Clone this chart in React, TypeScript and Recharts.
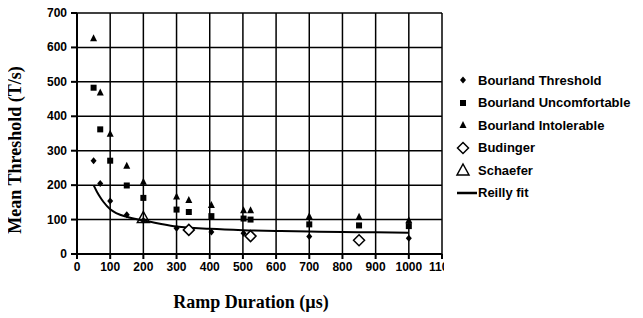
import React from 'react'
import { ComposedChart, Scatter, Line, XAxis, YAxis, CartesianGrid } from 'recharts'

type Pt = { x: number; y: number }

const xTicks = [0, 100, 200, 300, 400, 500, 600, 700, 800, 900, 1000, 1100]
const yTicks = [0, 100, 200, 300, 400, 500, 600, 700]

const bourlandThreshold: Pt[] = [
  { x: 50, y: 271 }, { x: 70, y: 205 }, { x: 100, y: 154 }, { x: 150, y: 114 },
  { x: 200, y: 97 }, { x: 300, y: 75 }, { x: 405, y: 64 }, { x: 502, y: 60 },
  { x: 700, y: 51 }, { x: 1000, y: 46 },
]
const bourlandUncomfortable: Pt[] = [
  { x: 50, y: 483 }, { x: 70, y: 362 }, { x: 100, y: 271 }, { x: 150, y: 199 },
  { x: 200, y: 163 }, { x: 300, y: 129 }, { x: 337, y: 122 }, { x: 405, y: 110 },
  { x: 502, y: 103 }, { x: 523, y: 100 }, { x: 700, y: 86 }, { x: 850, y: 83 },
  { x: 1000, y: 81 },
]
const bourlandIntolerable: Pt[] = [
  { x: 50, y: 627 }, { x: 70, y: 469 }, { x: 100, y: 349 }, { x: 150, y: 256 },
  { x: 200, y: 210 }, { x: 300, y: 167 }, { x: 337, y: 157 }, { x: 405, y: 142 },
  { x: 502, y: 127 }, { x: 523, y: 127 }, { x: 700, y: 110 }, { x: 850, y: 108 },
  { x: 1000, y: 98 },
]
const budinger: Pt[] = [
  { x: 337, y: 70 }, { x: 523, y: 52 }, { x: 850, y: 40 },
]
const schaefer: Pt[] = [
  { x: 200, y: 106 },
]
const reillyFit: Pt[] = [
  { x: 50, y: 200 }, { x: 60, y: 181 }, { x: 70, y: 165 }, { x: 80, y: 151 },
  { x: 100, y: 130 }, { x: 120, y: 118 }, { x: 150, y: 108 }, { x: 200, y: 97 },
  { x: 250, y: 88 }, { x: 300, y: 80 }, { x: 400, y: 73 }, { x: 500, y: 69 },
  { x: 600, y: 67 }, { x: 700, y: 65 }, { x: 800, y: 64 }, { x: 900, y: 63 },
  { x: 1000, y: 62 },
]

const legendItems = [
  { name: 'Bourland Threshold', kind: 'fdiamond' },
  { name: 'Bourland Uncomfortable', kind: 'fsquare' },
  { name: 'Bourland Intolerable', kind: 'ftriangle' },
  { name: 'Budinger', kind: 'odiamond' },
  { name: 'Schaefer', kind: 'otriangle' },
  { name: 'Reilly fit', kind: 'line' },
]

function Marker({ kind, cx, cy }: { kind: string; cx: number; cy: number }) {
  switch (kind) {
    case 'fdiamond':
      return <path d={`M${cx},${cy - 3.5}L${cx + 3},${cy}L${cx},${cy + 3.5}L${cx - 3},${cy}Z`} fill="#000" />
    case 'fsquare':
      return <rect x={cx - 3} y={cy - 3} width={6} height={6} fill="#000" />
    case 'ftriangle':
      return <path d={`M${cx},${cy - 4}L${cx + 3.5},${cy + 3}L${cx - 3.5},${cy + 3}Z`} fill="#000" />
    case 'odiamond':
      return <path d={`M${cx},${cy - 5.5}L${cx + 5.5},${cy}L${cx},${cy + 5.5}L${cx - 5.5},${cy}Z`} fill="#fff" stroke="#000" strokeWidth={1.5} />
    case 'otriangle':
      return <path d={`M${cx},${cy - 6}L${cx + 6},${cy + 5}L${cx - 6},${cy + 5}Z`} fill="none" stroke="#000" strokeWidth={1.5} />
    default:
      return <rect x={cx - 10} y={cy - 1.25} width={20} height={2.5} fill="#000" />
  }
}

const shape = (kind: string) => (props: any) => <Marker kind={kind} cx={props.cx} cy={props.cy} />

const tickFont = 'Liberation Sans, Arial, sans-serif'
const titleFont = 'Liberation Serif, Times New Roman, serif'

function XTick(props: any) {
  const { x, y, payload } = props
  return (
    <text x={x} y={y + 10} textAnchor="middle" fontFamily={tickFont} fontWeight={700} fontSize={12} fill="#000">
      {payload.value}
    </text>
  )
}

function YTick(props: any) {
  const { x, y, payload } = props
  return (
    <text x={x - 2} y={y + 4} textAnchor="end" fontFamily={tickFont} fontWeight={700} fontSize={12} fill="#000">
      {payload.value}
    </text>
  )
}

export default function App() {
  return (
    <div style={{ position: 'relative', width: 643, height: 318, margin: '-8px 0 0 -8px' }}>
      <ComposedChart width={643} height={318} margin={{ top: 13, right: 201, bottom: 34, left: 0 }}>
        <CartesianGrid stroke="#000" strokeWidth={1.5} />
        <XAxis
          type="number"
          dataKey="x"
          domain={[0, 1100]}
          ticks={xTicks}
          interval={0}
          height={30}
          stroke="#000"
          strokeWidth={2}
          tickSize={5}
          tick={<XTick />}
        />
        <YAxis
          type="number"
          dataKey="y"
          domain={[0, 700]}
          ticks={yTicks}
          interval={0}
          width={77}
          stroke="#000"
          strokeWidth={2}
          tickSize={6}
          tick={<YTick />}
        />
        <Line data={reillyFit} dataKey="y" type="monotone" stroke="#000" strokeWidth={2} dot={false} isAnimationActive={false} />
        <Scatter data={bourlandThreshold} shape={shape('fdiamond')} isAnimationActive={false} />
        <Scatter data={bourlandUncomfortable} shape={shape('fsquare')} isAnimationActive={false} />
        <Scatter data={bourlandIntolerable} shape={shape('ftriangle')} isAnimationActive={false} />
        <Scatter data={budinger} shape={shape('odiamond')} isAnimationActive={false} />
        <Scatter data={schaefer} shape={shape('otriangle')} isAnimationActive={false} />
      </ComposedChart>
      <svg width={643} height={318} style={{ position: 'absolute', left: 0, top: 0, pointerEvents: 'none' }}>
        <text x={15} y={150} transform="rotate(-90 15 150)" textAnchor="middle" dominantBaseline="central"
          style={{ fontFamily: titleFont, fontWeight: 700, fontSize: 18, fill: '#000' }}>
          Mean Threshold (T/s)
        </text>
        <text x={251} y={302} textAnchor="middle" dominantBaseline="central"
          style={{ fontFamily: titleFont, fontWeight: 700, fontSize: 18, fill: '#000' }}>
          Ramp Duration ({'\u00b5'}s)
        </text>
      </svg>
      <div style={{ position: 'absolute', left: 444, top: 62, width: 199, height: 230, background: '#fff' }}>
        {legendItems.map((it, i) => (
          <div key={it.name} style={{ position: 'absolute', left: 0, top: 9 + i * 22.5, height: 18, display: 'flex', alignItems: 'center' }}>
            <svg width={33} height={18} style={{ display: 'block' }}>
              <Marker kind={it.kind} cx={it.kind === 'line' ? 23 : 19} cy={9} />
            </svg>
            <span style={{ fontFamily: tickFont, fontWeight: 700, fontSize: 13, color: '#000', whiteSpace: 'nowrap', marginLeft: 1 }}>
              {it.name}
            </span>
          </div>
        ))}
      </div>
    </div>
  )
}
